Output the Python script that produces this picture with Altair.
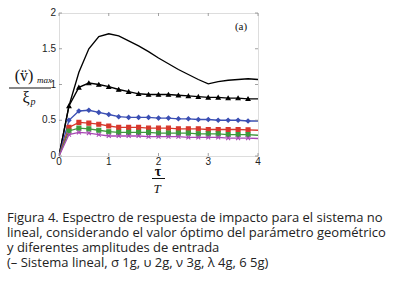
import altair as alt
import pandas as pd

# --- data ---
tau = [0.0, 0.2, 0.4, 0.6, 0.8, 1.0, 1.2, 1.4, 1.6, 1.8, 2.0,
       2.2, 2.4, 2.6, 2.8, 3.0, 3.2, 3.4, 3.6, 3.8, 4.0]
lineal = [0, 0.70, 1.17, 1.50, 1.67, 1.71, 1.68, 1.61, 1.54, 1.46, 1.37,
          1.29, 1.21, 1.14, 1.07, 1.01, 1.04, 1.06, 1.07, 1.08, 1.07]
g1 = [0, 0.70, 0.96, 1.02, 1.00, 0.97, 0.93, 0.90, 0.87, 0.86, 0.86,
      0.86, 0.85, 0.84, 0.83, 0.82, 0.82, 0.81, 0.81, 0.80, 0.80]
g2 = [0, 0.50, 0.63, 0.64, 0.61, 0.58, 0.55, 0.54, 0.54, 0.54, 0.53,
      0.53, 0.52, 0.52, 0.51, 0.51, 0.50, 0.50, 0.50, 0.49, 0.49]
g3 = [0, 0.40, 0.47, 0.46, 0.445, 0.42, 0.40, 0.40, 0.40, 0.39, 0.39,
      0.39, 0.38, 0.38, 0.38, 0.37, 0.37, 0.37, 0.37, 0.365, 0.36]
g4 = [0, 0.35, 0.39, 0.38, 0.36, 0.34, 0.33, 0.33, 0.33, 0.33, 0.32,
      0.32, 0.32, 0.32, 0.31, 0.31, 0.31, 0.30, 0.30, 0.30, 0.29]
g5 = [0, 0.30, 0.33, 0.32, 0.30, 0.28, 0.28, 0.28, 0.28, 0.27, 0.27,
      0.27, 0.27, 0.26, 0.26, 0.26, 0.26, 0.25, 0.25, 0.25, 0.245]

series_names = ["lineal", "1g", "2g", "3g", "4g", "5g"]
series_vals = [lineal, g1, g2, g3, g4, g5]
series_colors = ["#000000", "#000000", "#3c50b4", "#d8372c", "#3d9a3d", "#a848b4"]
marker_series = ["1g", "2g", "3g", "4g", "5g"]
marker_shapes = ["triangle-up", "diamond", "square", "square",
                 "M-1,-1L1,1M-1,1L1,-1"]
marker_fill = ["#000000", "#3c50b4", "#d8372c", "#3d9a3d", "transparent"]

x_ticks = [0, 1, 2, 3, 4]
y_ticks = [0, 0.5, 1, 1.5, 2]
y_tick_labels = ["0", "0.5", "1", "1.5", "2"]

caption = [
    "Figura 4. Espectro de respuesta de impacto para el sistema no",
    "lineal, considerando el valor óptimo del parámetro geométrico",
    "y diferentes amplitudes de entrada",
    "(– Sistema lineal, σ 1g, υ 2g, ν 3g, λ 4g, 6  5g)",
]

rows = []
for name, vals in zip(series_names, series_vals):
    for t, v in zip(tau, vals):
        rows.append({"tau": t, "val": v, "serie": name})
df = pd.DataFrame(rows)

W, H = 199, 143
FRAME = "#8a8a8a"
xsc = alt.Scale(domain=[0, 4], nice=False)
ysc = alt.Scale(domain=[0, 2], nice=False)
csc = alt.Scale(domain=series_names, range=series_colors)

lines = alt.Chart(df).mark_line(strokeWidth=1.35, clip=True).encode(
    x=alt.X("tau:Q", scale=xsc, axis=None),
    y=alt.Y("val:Q", scale=ysc, axis=None),
    color=alt.Color("serie:N", scale=csc, legend=None),
    detail="serie:N",
)

pts_df = df[(df["serie"] != "lineal") & (df["tau"] < 3.9) & (df["tau"] > 0.1)]
points = alt.Chart(pts_df).mark_point(size=16, strokeWidth=1.1, fillOpacity=1, opacity=1).encode(
    x=alt.X("tau:Q", scale=xsc, axis=None),
    y=alt.Y("val:Q", scale=ysc, axis=None),
    shape=alt.Shape("serie:N", scale=alt.Scale(domain=marker_series, range=marker_shapes), legend=None),
    color=alt.Color("serie:N", scale=csc, legend=None),
    fill=alt.Fill("serie:N", scale=alt.Scale(domain=marker_series, range=marker_fill), legend=None),
)

# inner tick marks (MATLAB style box) and tick labels
xt = pd.DataFrame({"v": x_ticks, "lab": [str(v) for v in x_ticks]})
yt = pd.DataFrame({"v": y_ticks, "lab": y_tick_labels})
xt_bot = alt.Chart(xt).mark_rule(color=FRAME, strokeWidth=0.8).encode(
    x=alt.X("v:Q", scale=xsc, axis=None), y=alt.value(H), y2=alt.value(H - 3))
xt_top = alt.Chart(xt).mark_rule(color=FRAME, strokeWidth=0.8).encode(
    x=alt.X("v:Q", scale=xsc, axis=None), y=alt.value(0), y2=alt.value(3))
yt_l = alt.Chart(yt).mark_rule(color=FRAME, strokeWidth=0.8).encode(
    y=alt.Y("v:Q", scale=ysc, axis=None), x=alt.value(0), x2=alt.value(3))
yt_r = alt.Chart(yt).mark_rule(color=FRAME, strokeWidth=0.8).encode(
    y=alt.Y("v:Q", scale=ysc, axis=None), x=alt.value(W), x2=alt.value(W - 3))
xlab = alt.Chart(xt).mark_text(font="Liberation Sans", fontSize=10, color="#222",
                               baseline="middle", align="center").encode(
    x=alt.X("v:Q", scale=xsc, axis=None), y=alt.value(H + 5.5), text="lab:N")
ylab = alt.Chart(yt).mark_text(font="Liberation Sans", fontSize=10, color="#222",
                               baseline="middle", align="right").encode(
    y=alt.Y("v:Q", scale=ysc, axis=None), x=alt.value(-3), text="lab:N")

one = pd.DataFrame({"k": [0]})


def txt(text, x, y, size, font="Liberation Serif", style="normal", align="center",
        weight="normal", color="#111", baseline="alphabetic"):
    return alt.Chart(one).mark_text(
        text=text, font=font, fontSize=size, fontStyle=style, align=align,
        baseline=baseline, fontWeight=weight, color=color,
    ).encode(x=alt.value(x), y=alt.value(y))


def hline(x1, x2, y, w=1.0):
    return alt.Chart(one).mark_rule(color="#111", strokeWidth=w).encode(
        x=alt.value(x1), x2=alt.value(x2), y=alt.value(y))


annots = [
    txt("(v\u0308)", -35, 68, 16),
    txt("max", -22, 70, 9, style="italic", align="left"),
    hline(-50, -8, 75),
    txt("ξ", -33, 90, 16),
    txt("p", -28.5, 91.5, 10, style="italic", align="left"),
    txt("τ", 99, 162.5, 14, weight="bold"),
    hline(93, 106, 165.5),
    txt("T", 98, 179.5, 13, style="italic"),
    txt("(a)", 182, 17, 11),
]
for i, line in enumerate(caption):
    annots.append(txt(line, -52, 205 + 15 * i, 13, font="Open Sans", align="left",
                      color="#222", baseline="middle"))

chart = alt.layer(lines, points, xt_bot, xt_top, yt_l, yt_r, xlab, ylab, *annots).properties(
    width=W, height=H,
    autosize=alt.AutoSizeParams(type="none"),
    padding={"left": 59, "top": 13, "right": 142, "bottom": 130},
).configure_view(stroke=FRAME, strokeWidth=1).configure(background="white")

chart.save("out.html", embed_options={"renderer": "svg", "actions": False})
